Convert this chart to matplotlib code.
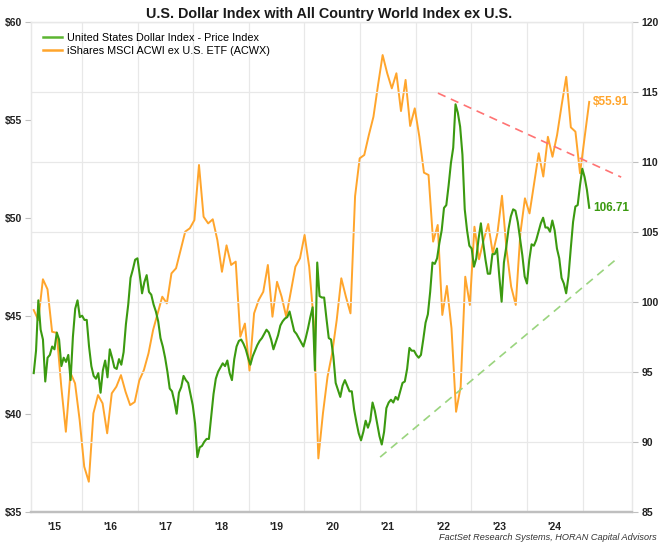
import matplotlib
matplotlib.use("Agg")
import matplotlib.pyplot as plt
import matplotlib.ticker as mticker
import matplotlib.dates as mdates
import pandas as pd

plt.rcParams["font.family"] = ["Liberation Sans", "DejaVu Sans"]

# ---------- data -----------------------------------------------------
# iShares MSCI ACWI ex U.S. ETF, roughly monthly closes (left axis, $)
acwx = [
    45.29, 44.78, 46.86, 46.35, 44.18, 44.13, 41.38, 39.08, 42.09, 41.55,
    39.68, 37.30, 36.53, 40.02, 40.95, 40.53, 39.00, 41.04, 41.38, 41.97,
    41.12, 40.44, 40.60, 41.70, 42.23, 43.08, 44.27, 45.12, 45.97, 45.63,
    47.16, 47.42, 48.35, 49.29, 49.46, 49.88, 52.69, 50.05, 49.71, 49.92,
    48.86, 47.24, 48.59, 47.59, 47.76, 43.93, 44.60, 42.20, 45.12, 45.80,
    46.22, 47.59, 44.95, 46.73, 45.97, 44.95, 46.22, 47.50, 47.93, 49.12,
    47.50, 44.69, 37.72, 40.02, 41.89, 43.08, 44.78, 46.91, 45.97, 45.12,
    51.10, 53.03, 53.20, 54.22, 55.15, 56.77, 58.30, 57.37, 56.60, 57.37,
    55.44, 57.03, 54.68, 55.58, 54.13, 52.30, 52.18, 48.78, 49.63, 45.04,
    46.52, 44.36, 40.10, 41.38, 46.99, 45.55, 49.54, 47.88, 48.86, 49.68,
    48.18, 49.20, 51.12, 48.35, 46.48, 45.55, 49.20, 50.99, 50.22, 51.75,
    53.29, 52.10, 54.13, 53.11, 54.22, 55.75, 57.19, 54.61, 54.39, 52.27,
    54.10, 55.91,
]

# U.S. Dollar Index, sampled about twice a month (right axis)
dxy = [
    94.9, 96.5, 100.1, 98.0, 97.3, 94.3, 96.0, 96.2, 96.8, 96.6,
    97.8, 97.3, 95.4, 96.0, 95.7, 96.2, 94.4, 97.5, 99.5, 100.1,
    98.9, 99.0, 98.7, 98.7, 96.8, 95.4, 94.7, 94.5, 94.9, 93.5,
    95.1, 95.8, 94.6, 96.6, 96.0, 95.3, 95.2, 95.9, 95.5, 96.4,
    98.4, 99.8, 101.7, 102.3, 103.0, 103.1, 101.9, 100.6, 101.4, 101.9,
    100.7, 100.5, 99.8, 99.3, 98.6, 97.4, 96.8, 96.0, 95.0, 93.8,
    93.6, 92.9, 92.0, 93.5, 93.9, 94.7, 94.4, 94.2, 93.4, 92.6,
    91.3, 88.9, 89.6, 89.7, 90.0, 90.2, 90.2, 91.8, 93.4, 94.5,
    95.0, 95.3, 95.6, 95.4, 95.8, 94.9, 94.4, 95.9, 96.8, 97.2,
    97.3, 97.0, 96.6, 96.0, 95.5, 96.1, 96.5, 96.9, 97.2, 97.4,
    97.7, 98.0, 97.8, 97.3, 96.6, 97.1, 97.6, 98.3, 98.6, 98.8,
    98.9, 99.3, 98.6, 97.9, 97.7, 97.4, 97.1, 96.8, 97.4, 98.1,
    98.9, 99.6, 95.1, 102.8, 100.4, 100.3, 100.3, 98.8, 97.4, 97.3,
    96.1, 94.2, 93.7, 93.2, 94.0, 94.4, 94.0, 93.6, 93.6, 92.3,
    91.4, 90.6, 90.1, 90.7, 91.5, 91.0, 91.5, 92.8, 92.2, 91.3,
    90.4, 89.8, 90.7, 92.4, 92.8, 93.0, 92.8, 93.2, 93.0, 93.6,
    94.2, 94.3, 95.2, 96.7, 96.5, 96.5, 96.2, 96.0, 96.2, 97.3,
    98.5, 99.1, 100.7, 102.8, 102.7, 103.1, 104.2, 105.1, 106.7, 106.9,
    108.3, 109.9, 111.0, 114.1, 113.5, 112.5, 110.5, 106.6, 105.1, 104.0,
    103.8, 102.5, 103.1, 104.5, 105.6, 104.2, 103.0, 102.0, 102.0, 103.4,
    103.4, 103.8, 101.8, 100.0, 102.8, 103.9, 105.2, 106.1, 106.6, 106.5,
    105.7, 104.5, 103.3, 101.8, 101.3, 103.0, 104.1, 104.0, 104.4, 105.0,
    105.6, 106.0, 105.3, 105.3, 105.0, 105.8, 105.1, 103.8, 103.1, 101.7,
    101.3, 100.6, 101.8, 103.8, 105.7, 106.8, 106.9, 108.3, 109.5, 108.9,
    108.0, 106.71,
]

series_start, series_end = "2015-02-17", "2025-02-14"

# hand-drawn trend lines (dates, DXY level)
resist_dates = ["2022-05-27", "2025-09-12"]
resist_vals = [114.9, 108.9]
support_dates = ["2021-05-12", "2025-08-29"]
support_vals = [88.9, 103.2]

years = list(range(2015, 2025))
year_labels = [f"'{y % 100:02d}" for y in years]

GREEN = "#3b9a10"
ORANGE = "#ffa52c"

# ---------- figure ----------------------------------------------------
fig = plt.figure(figsize=(6.63, 5.47), dpi=100)
ax = fig.add_axes([0.0472, 0.0645, 0.906, 0.8958])
ax2 = ax.twinx()

acwx_dates = pd.date_range(series_start, series_end, periods=len(acwx))
dxy_dates = pd.date_range(series_start, series_end, periods=len(dxy))

ax.plot(acwx_dates, acwx, color=ORANGE, lw=1.4, zorder=3)
ax2.plot(dxy_dates, dxy, color=GREEN, lw=1.5, zorder=3)

ax2.plot(pd.to_datetime(resist_dates), resist_vals, color="#ff7373",
         lw=1.2, ls=(0, (5, 3.5)), zorder=2)
ax2.plot(pd.to_datetime(support_dates), support_vals, color="#9ad47e",
         lw=1.2, ls=(0, (5, 3.5)), zorder=2)

# axes ranges
ax.set_xlim(pd.Timestamp("2015-02-01"), pd.Timestamp("2025-11-22"))
ax.set_ylim(35, 60)
ax2.set_ylim(85, 120)

# left axis ($)
ax.yaxis.set_major_locator(mticker.MultipleLocator(5))
ax.yaxis.set_major_formatter(mticker.FuncFormatter(lambda v, p: f"${v:.0f}"))
ax.tick_params(axis="y", length=4.5, width=0.8, color="#bfbfbf", pad=2,
               labelsize=7.5, labelcolor="#222222")
for lab in ax.get_yticklabels():
    lab.set_fontweight("bold")

# right axis
ax2.yaxis.set_major_locator(mticker.MultipleLocator(5))
ax2.tick_params(axis="y", length=4, width=0.8, color="#bfbfbf", pad=3,
                labelsize=7.5, labelcolor="#222222")
for lab in ax2.get_yticklabels():
    lab.set_fontweight("bold")
ax2.grid(axis="y", color="#e8e8e8", lw=0.9)
ax2.set_axisbelow(True)

# x axis: gridlines on year starts, labels mid-year
ax.xaxis.set_major_locator(mdates.YearLocator())
ax.xaxis.set_major_formatter(mticker.NullFormatter())
ax.xaxis.set_minor_locator(mticker.FixedLocator(
    mdates.date2num([pd.Timestamp(f"{y}-07-02") for y in years])))
ax.xaxis.set_minor_formatter(mticker.FixedFormatter(year_labels))
ax.tick_params(axis="x", which="both", length=0, pad=7.5,
               labelsize=7.5, labelcolor="#222222")
for lab in ax.get_xticklabels(minor=True):
    lab.set_fontweight("bold")
ax.grid(axis="x", which="major", color="#e8e8e8", lw=0.9)
ax.set_axisbelow(True)

for a in (ax, ax2):
    for side in ("left", "right", "top"):
        a.spines[side].set_color("#e8e8e8")
        a.spines[side].set_linewidth(0.9)
    a.spines["bottom"].set_color("#bfbfbf")
    a.spines["bottom"].set_linewidth(1.6)

# end-of-series labels
ax.annotate(f"${acwx[-1]:.2f}", (acwx_dates[-1], acwx[-1]), xytext=(2.5, 0),
            textcoords="offset points", va="center", ha="left",
            color=ORANGE, fontsize=8.5, fontweight="bold")
ax2.annotate(f"{dxy[-1]:.2f}", (dxy_dates[-1], dxy[-1]), xytext=(3, 0),
             textcoords="offset points", va="center", ha="left",
             color=GREEN, fontsize=8.5, fontweight="bold")

# legend
h1, = ax.plot([], [], color="#5cb531", lw=1.8)
h2, = ax.plot([], [], color=ORANGE, lw=1.8)
ax2.legend([h1, h2], ["United States Dollar Index - Price Index",
                      "iShares MSCI ACWI ex U.S. ETF (ACWX)"],
           loc="upper left", bbox_to_anchor=(0.02, 0.977), frameon=False,
           fontsize=7.8, handlelength=1.7, handletextpad=0.5,
           labelspacing=0.3, borderpad=0, borderaxespad=0)

fig.text(0.496, 1 - 14 / 547, "U.S. Dollar Index with All Country World Index ex U.S.",
         ha="center", va="center", fontsize=10.4, fontweight="bold", color="#1a1a1a")
fig.text(657 / 663, 1 - 538 / 547, "FactSet Research Systems, HORAN Capital Advisors",
         ha="right", va="center", fontsize=6.6, style="italic", color="#333333")

fig.savefig("out.png", dpi=100)
